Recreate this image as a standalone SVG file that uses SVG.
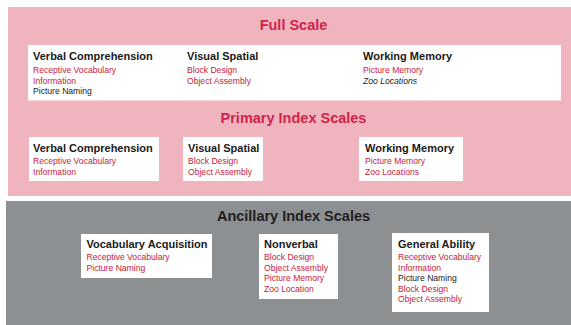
<svg xmlns="http://www.w3.org/2000/svg" width="571" height="325" viewBox="0 0 571 325">
<style>
.title{font-family:"Liberation Sans",Arial,sans-serif;font-weight:bold;font-size:14.5px;text-anchor:middle}
.red-title{fill:#D0234A}
.dark-title{fill:#1f1f1f}
.box{fill:#ffffff}
.h{font-family:"Liberation Sans",Arial,sans-serif;font-weight:bold;font-size:11px;fill:#1a1a1a}
.s{font-family:"Liberation Sans",Arial,sans-serif;font-size:8.6px;fill:#C8213A}
.k{fill:#1a1a1a}
.i{font-style:italic}
</style>
<rect width="571" height="325" fill="#ffffff"/>
<rect id="full-panel" x="8" y="7" width="563" height="189" fill="#F0B4BF"/>
<rect id="ancillary-panel" x="6" y="201" width="565" height="124" fill="#8D9093"/>
<text class="title red-title" x="293.5" y="29.5">Full Scale</text>
<text class="title red-title" x="293.5" y="123">Primary Index Scales</text>
<text class="title dark-title" x="293.5" y="221">Ancillary Index Scales</text>

<g id="full-scale">
<rect class="box" x="28" y="45" width="533" height="55.5"/>
<text class="h" x="33" y="60">Verbal Comprehension</text>
<text class="s" x="33" y="73">Receptive Vocabulary</text>
<text class="s" x="33" y="83.5">Information</text>
<text class="s k" x="33" y="94">Picture Naming</text>
<text class="h" x="187" y="60">Visual Spatial</text>
<text class="s" x="187" y="73">Block Design</text>
<text class="s" x="187" y="83.5">Object Assembly</text>
<text class="h" x="363" y="60">Working Memory</text>
<text class="s" x="363" y="73">Picture Memory</text>
<text class="s k i" x="363" y="83.5">Zoo Locations</text>
</g>

<g id="primary-verbal">
<rect class="box" x="29" y="137" width="130" height="44"/>
<text class="h" x="33" y="151.5">Verbal Comprehension</text>
<text class="s" x="33" y="164">Receptive Vocabulary</text>
<text class="s" x="33" y="174.5">Information</text>
</g>
<g id="primary-visual">
<rect class="box" x="183" y="137" width="80" height="44"/>
<text class="h" x="188" y="151.5">Visual Spatial</text>
<text class="s" x="188" y="164">Block Design</text>
<text class="s" x="188" y="174.5">Object Assembly</text>
</g>
<g id="primary-working">
<rect class="box" x="359" y="137" width="104" height="44"/>
<text class="h" x="365" y="151.5">Working Memory</text>
<text class="s" x="365" y="164">Picture Memory</text>
<text class="s" x="365" y="174.5">Zoo Locations</text>
</g>

<g id="vocabulary-acquisition">
<rect class="box" x="81" y="234" width="131" height="44"/>
<text class="h" x="86.5" y="247.5">Vocabulary Acquisition</text>
<text class="s" x="86.5" y="260">Receptive Vocabulary</text>
<text class="s" x="86.5" y="270.5">Picture Naming</text>
</g>
<g id="nonverbal">
<rect class="box" x="259" y="234" width="79" height="65"/>
<text class="h" x="264" y="247.5">Nonverbal</text>
<text class="s" x="264" y="260">Block Design</text>
<text class="s" x="264" y="270.5">Object Assembly</text>
<text class="s" x="264" y="281">Picture Memory</text>
<text class="s" x="264" y="291.5">Zoo Location</text>
</g>
<g id="general-ability">
<rect class="box" x="392" y="233" width="97" height="79"/>
<text class="h" x="398" y="247.5">General Ability</text>
<text class="s" x="398" y="260">Receptive Vocabulary</text>
<text class="s" x="398" y="270.5">Information</text>
<text class="s k" x="398" y="281">Picture Naming</text>
<text class="s" x="398" y="291.5">Block Design</text>
<text class="s" x="398" y="302">Object Assembly</text>
</g>
<g id="connectors"></g>
</svg>
